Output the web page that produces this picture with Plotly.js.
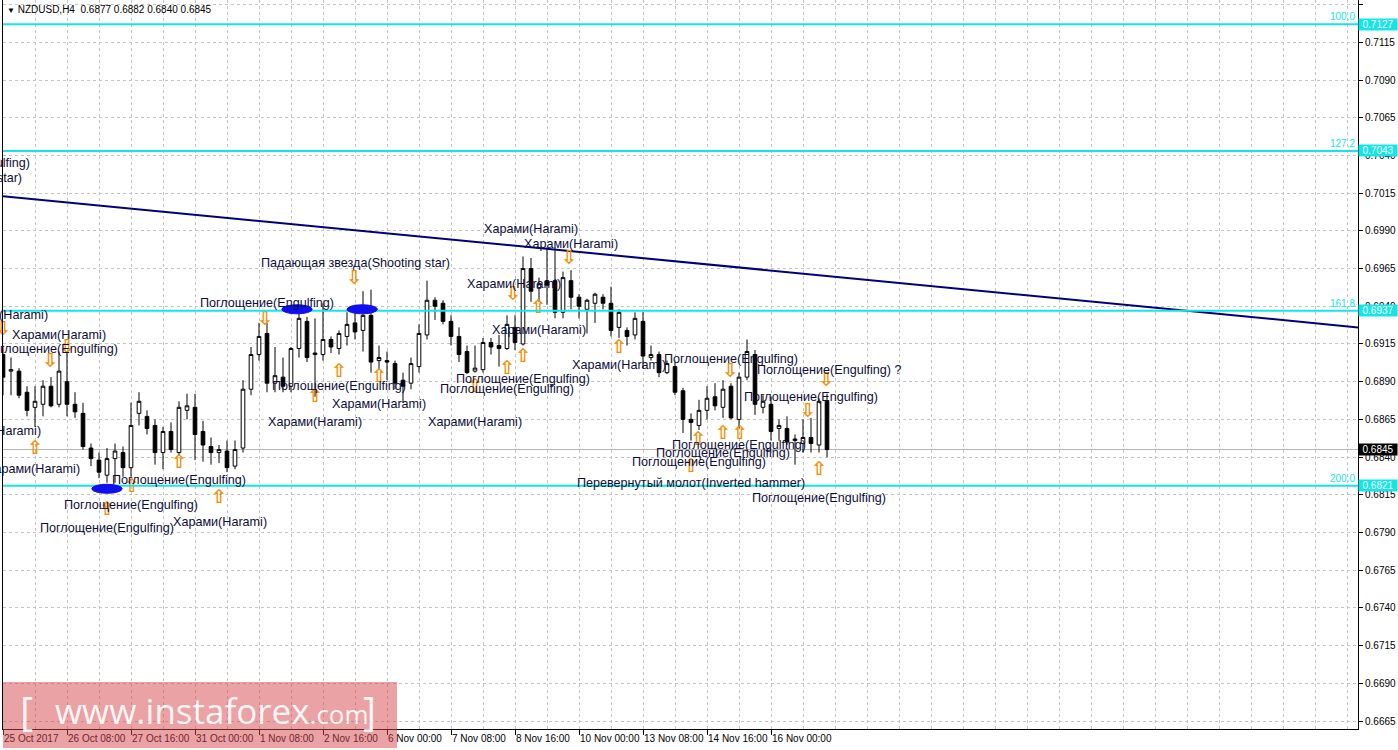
<!DOCTYPE html>
<html><head><meta charset="utf-8">
<script src="https://cdn.plot.ly/plotly-3.0.1.min.js"></script>
<style>html,body{margin:0;padding:0;background:#fff;} #chart{width:1398px;height:750px;}</style>
</head><body><div id="chart"></div>
<script>
// ---------- DATA ----------
const symbolName = "NZDUSD,H4";
const openP  = [0.6908,0.6897,0.6897,0.6883,0.6873,0.6875,0.6887,0.6875,0.6890,0.6875,
0.6869,0.6846,0.6838,0.6828,0.6839,0.6843,0.6833,0.6869,0.6867,0.6861,
0.6843,0.6857,0.6843,0.6871,0.6873,0.6857,0.6847,0.6843,0.6844,0.6834,
0.6846,0.6885,0.6908,0.6922,0.6889,0.6893,0.6887,0.6912,0.6930,0.6908,
0.6908,0.6918,0.6912,0.6920,0.6929,0.6924,0.6934,0.6904,0.6904,0.6902,
0.6891,0.6889,0.6900,0.6921,0.6944,0.6942,0.6930,0.6920,0.6910,0.6897,
0.6898,0.6916,0.6914,0.6912,0.6926,0.6915,0.6965,0.6952,0.6957,0.6957,
0.6936,0.6957,0.6946,0.6938,0.6942,0.6946,0.6942,0.6926,0.6924,0.6921,
0.6930,0.6906,0.6908,0.6896,0.6900,0.6884,0.6865,0.6861,0.6871,0.6880,
0.6873,0.6887,0.6865,0.6893,0.6908,0.6873,0.6875,0.6859,0.6859,0.6851,
0.6849,0.6853,0.6848,0.6877];
const highP  = [0.6914,0.6906,0.6899,0.6887,0.6887,0.6891,0.6893,0.6910,0.6910,0.6883,
0.6876,0.6849,0.6843,0.6846,0.6849,0.6847,0.6876,0.6883,0.6871,0.6865,
0.6860,0.6863,0.6877,0.6882,0.6882,0.6864,0.6853,0.6848,0.6851,0.6851,
0.6891,0.6913,0.6929,0.6929,0.6913,0.6906,0.6913,0.6939,0.6933,0.6932,
0.6942,0.6920,0.6924,0.6936,0.6941,0.6950,0.6951,0.6914,0.6910,0.6904,
0.6896,0.6906,0.6928,0.6957,0.6946,0.6944,0.6934,0.6926,0.6914,0.6914,
0.6919,0.6919,0.6921,0.6934,0.6934,0.6973,0.6972,0.6959,0.6979,0.6979,
0.6963,0.6964,0.6948,0.6945,0.6949,0.6948,0.6953,0.6938,0.6926,0.6936,
0.6936,0.6914,0.6910,0.6904,0.6903,0.6886,0.6869,0.6878,0.6887,0.6889,
0.6891,0.6889,0.6896,0.6918,0.6911,0.6881,0.6880,0.6865,0.6867,0.6855,
0.6865,0.6866,0.6879,0.6882];
const lowP   = [0.6881,0.6881,0.6879,0.6867,0.6860,0.6867,0.6873,0.6873,0.6867,0.6866,
0.6845,0.6834,0.6826,0.6823,0.6823,0.6827,0.6827,0.6861,0.6855,0.6835,
0.6832,0.6843,0.6841,0.6865,0.6838,0.6837,0.6835,0.6836,0.6830,0.6832,
0.6843,0.6881,0.6904,0.6883,0.6883,0.6883,0.6883,0.6906,0.6903,0.6880,
0.6904,0.6909,0.6908,0.6914,0.6918,0.6910,0.6896,0.6898,0.6891,0.6885,
0.6876,0.6885,0.6896,0.6918,0.6931,0.6928,0.6914,0.6903,0.6895,0.6896,
0.6896,0.6908,0.6900,0.6911,0.6911,0.6914,0.6943,0.6943,0.6941,0.6932,
0.6932,0.6938,0.6932,0.6922,0.6929,0.6938,0.6920,0.6919,0.6914,0.6918,
0.6899,0.6904,0.6893,0.6895,0.6881,0.6856,0.6851,0.6858,0.6865,0.6871,
0.6866,0.6865,0.6859,0.6891,0.6868,0.6869,0.6851,0.6851,0.6848,0.6835,
0.6843,0.6843,0.6843,0.6840];
const closeP = [0.6893,0.6898,0.6881,0.6871,0.6877,0.6887,0.6874,0.6897,0.6875,0.6870,
0.6847,0.6839,0.6830,0.6839,0.6844,0.6833,0.6861,0.6877,0.6859,0.6843,
0.6857,0.6845,0.6873,0.6874,0.6855,0.6848,0.6843,0.6845,0.6833,0.6845,
0.6885,0.6908,0.6920,0.6889,0.6894,0.6887,0.6912,0.6932,0.6906,0.6909,
0.6918,0.6913,0.6922,0.6928,0.6923,0.6934,0.6903,0.6906,0.6903,0.6889,
0.6887,0.6902,0.6922,0.6944,0.6940,0.6930,0.6920,0.6908,0.6896,0.6899,
0.6916,0.6913,0.6912,0.6928,0.6916,0.6965,0.6950,0.6955,0.6954,0.6936,
0.6959,0.6946,0.6940,0.6944,0.6948,0.6942,0.6924,0.6936,0.6920,0.6932,
0.6907,0.6908,0.6896,0.6902,0.6883,0.6865,0.6863,0.6871,0.6879,0.6874,
0.6885,0.6866,0.6893,0.6910,0.6875,0.6877,0.6857,0.6861,0.6850,0.6852,
0.6853,0.6849,0.6877,0.6845];

const tickBars   = [0,8,16,24,32,40,48,56,64,72,80,88,96];
const tickLabels = ["25 Oct 2017","26 Oct 08:00","27 Oct 16:00","31 Oct 00:00","1 Nov 08:00","2 Nov 16:00",
                    "6 Nov 00:00","7 Nov 08:00","8 Nov 16:00","10 Nov 00:00","13 Nov 08:00","14 Nov 16:00","16 Nov 00:00"];

const fibLevels = [0.7127, 0.7043, 0.6937, 0.6821];
const fibNames  = ["100.0", "127.2", "161.8", "200.0"];
const bidPrice  = 0.6845;

const trendBars   = [0, 169.4];
const trendPrices = [0.7013, 0.6926];

// pattern labels (centred)
const patternText = [
 "Харами(Harami)","Поглощение(Engulfing)","Поглощение(Engulfing)","Поглощение(Engulfing)","Поглощение(Engulfing)",
 "Харами(Harami)","Падающая звезда(Shooting star)","Поглощение(Engulfing)","Поглощение(Engulfing)","Харами(Harami)",
 "Харами(Harami)","Харами(Harami)","Харами(Harami)","Харами(Harami)","Харами(Harami)","Харами(Harami)",
 "Поглощение(Engulfing)","Поглощение(Engulfing)","Харами(Harami)","Поглощение(Engulfing)","Поглощение(Engulfing) ?",
 "Поглощение(Engulfing)","Поглощение(Engulfing)","Поглощение(Engulfing)","Поглощение(Engulfing)",
 "Перевернутый молот(Inverted hammer)","Поглощение(Engulfing)"];
const patternBar = [7.0, 6.0, 22.0, 16.0, 13.0, 27.1, 44.0, 33.0, 42.0, 47.0,
 39.0, 59.0, 66.0, 71.0, 63.9, 67.0, 65.0, 63.0, 77.0, 91.0, 103.25,
 101.0, 92.0, 90.0, 87.0, 86.0, 102.0];
const patternPrice = [0.6921, 0.6912, 0.6825, 0.6808, 0.6793, 0.6797, 0.6969, 0.6942, 0.6887, 0.6875,
 0.6863, 0.6863, 0.6991, 0.6981, 0.6955, 0.6924, 0.6892, 0.6885, 0.6901, 0.6905, 0.6898,
 0.6880, 0.6848, 0.6843, 0.6837, 0.6823, 0.6813];

// labels cut by the left edge (right end given)
const edgeText  = ["Поглощение(Engulfing)", "Падающая звезда(Shooting star)", "Харами(Harami)", "Харами(Harami)", "Харами(Harami)"];
const edgeBar   = [3.6, 2.6, 5.9, 5.0, 9.9];
const edgePrice = [0.7035, 0.7025, 0.6934, 0.6857, 0.6832];

const upArrowBar   = [4.0, 13.0, 16.1, 22.0, 27.0, 42.0, 39.0, 47.0, 63.0, 65.0, 66.9, 77.0, 59.0, 90.0, 92.1, 86.9, 86.0, 102.0];
const upArrowPrice = [0.6845, 0.6805, 0.6820, 0.6836, 0.6813, 0.6896, 0.6880, 0.6893, 0.6898, 0.6906, 0.6939, 0.6912, 0.6886, 0.6855, 0.6855, 0.6851, 0.6833, 0.6831];
const downArrowBar   = [5.9, 8.0, 0.0, 32.75, 43.9, 63.75, 70.75, 90.9, 102.9, 100.6];
const downArrowPrice = [0.6903, 0.6912, 0.6924, 0.6931, 0.6958, 0.6947, 0.6971, 0.6896, 0.6890, 0.6870];

const ellipseBar   = [13.0, 36.75, 44.9];
const ellipsePrice = [0.6819, 0.6938, 0.6938];

// ---------- STYLE ----------
const CYAN = '#14e6e6';
const TXT = '#0d0d3a';
const ARROW = '#f28c00';
const barIndex = openP.map((_, i) => i);
const last = openP.length - 1;

const traces = [
  {type:'candlestick', x:barIndex, open:openP, high:highP, low:lowP, close:closeP,
   increasing:{line:{color:'#000', width:1}, fillcolor:'#ffffff'},
   decreasing:{line:{color:'#000', width:1}, fillcolor:'#000000'},
   whiskerwidth:0, hoverinfo:'skip', showlegend:false},
  {type:'scatter', mode:'lines', x:trendBars, y:trendPrices,
   line:{color:'#00007a', width:2}, hoverinfo:'skip', showlegend:false},
  {type:'scatter', mode:'text', x:upArrowBar, y:upArrowPrice, text:upArrowBar.map(()=> '<b>⇧</b>'),
   textfont:{family:'DejaVu Sans', size:19, color:ARROW}, cliponaxis:false, hoverinfo:'skip', showlegend:false},
  {type:'scatter', mode:'text', x:downArrowBar, y:downArrowPrice, text:downArrowBar.map(()=> '<b>⇩</b>'),
   textfont:{family:'DejaVu Sans', size:19, color:ARROW}, cliponaxis:false, hoverinfo:'skip', showlegend:false}
];

const shapes = [];
const annotations = [];

// current bid line
shapes.push({type:'line', xref:'paper', x0:0, x1:1, yref:'y', y0:bidPrice, y1:bidPrice,
  line:{color:'#b4b4b4', width:1}, layer:'below'});
// fibonacci levels
fibLevels.forEach((lv, i) => {
  shapes.push({type:'line', xref:'paper', x0:0, x1:1, yref:'y', y0:lv, y1:lv,
    line:{color:CYAN, width:2}, layer:'above'});
  annotations.push({xref:'paper', x:1, xanchor:'right', xshift:-1, yref:'y', y:lv, yanchor:'bottom', yshift:0,
    text:fibNames[i], showarrow:false, font:{family:'Liberation Sans, Arial', size:10, color:CYAN}});
  annotations.push({xref:'paper', x:1, xanchor:'left', xshift:0, yref:'y', y:lv, yanchor:'middle',
    text:lv.toFixed(4), showarrow:false, bgcolor:CYAN, width:38, height:11, borderpad:0, align:'center',
    font:{family:'Liberation Sans, Arial', size:10, color:'#ffffff'}});
});
annotations.push({xref:'paper', x:1, xanchor:'left', xshift:0, yref:'y', y:bidPrice, yanchor:'middle',
  text:bidPrice.toFixed(4), showarrow:false, bgcolor:'#000', width:38, height:11, borderpad:0, align:'center',
  font:{family:'Liberation Sans, Arial', size:10, color:'#ffffff'}});

// ellipses
ellipseBar.forEach((b, i) => {
  shapes.push({type:'circle', xref:'x', yref:'y', x0:b-1.9, x1:b+1.9, y0:ellipsePrice[i]-0.0003, y1:ellipsePrice[i]+0.0003,
    fillcolor:'#1010ee', line:{color:'#1010ee', width:1}, layer:'above'});
});

// pattern labels
patternText.forEach((t, i) => {
  annotations.push({xref:'x', yref:'y', x:patternBar[i], y:patternPrice[i], text:t, showarrow:false,
    xanchor:'center', yanchor:'middle', font:{family:'Liberation Sans, Arial', size:12.6, color:TXT}});
});
edgeText.forEach((t, i) => {
  annotations.push({xref:'x', yref:'y', x:edgeBar[i], y:edgePrice[i], text:t, showarrow:false,
    xanchor:'right', yanchor:'middle', font:{family:'Liberation Sans, Arial', size:12.6, color:TXT}});
});

// header
annotations.push({xref:'paper', yref:'paper', x:0.0015, y:1, xanchor:'left', yanchor:'top', yshift:-2, showarrow:false,
  text:'<span style="font-size:8px">▼</span> ' + symbolName + '\u00a0\u00a0' +
       [openP[last], highP[last], lowP[last], closeP[last]].map(v => v.toFixed(4)).join(' '),
  font:{family:'Liberation Sans, Arial', size:10, color:'#000'}});

// watermark
shapes.push({type:'rect', xref:'paper', yref:'paper', x0:0, x1:0.2908, y0:-0.0261, y1:0.0645,
  fillcolor:'rgba(214,70,75,0.5)', line:{width:0}, layer:'above'});
annotations.push({xref:'paper', yref:'paper', x:0.0177, y:0.025, xanchor:'center', yanchor:'middle', showarrow:false,
  text:'[', font:{family:'Open Sans, DejaVu Sans', size:40, color:'rgba(255,255,255,0.92)'}});
annotations.push({xref:'paper', yref:'paper', x:0.0369, y:0.026, xanchor:'left', yanchor:'middle', showarrow:false,
  text:'www.instaforex<span style="font-size:26px">.com</span>',
  font:{family:'Open Sans, DejaVu Sans', size:35, color:'rgba(255,255,255,0.92)'}});
annotations.push({xref:'paper', yref:'paper', x:0.2705, y:0.025, xanchor:'center', yanchor:'middle', showarrow:false,
  text:']', font:{family:'Open Sans, DejaVu Sans', size:40, color:'rgba(255,255,255,0.92)'}});

const gridStyle = {gridcolor:'#c4c4c4', griddash:'3px,3px', gridwidth:1};

const layout = {
  width:1398, height:750,
  margin:{l:3, r:40, t:0, b:21, pad:0},
  paper_bgcolor:'#ffffff', plot_bgcolor:'#ffffff',
  showlegend:false, dragmode:false, boxgap:0.35,
  xaxis:Object.assign({
    range:[0, 169.375], tickmode:'array', tickvals:tickBars, ticktext:tickLabels, tickangle:0,
    ticks:'outside', ticklen:5, tickcolor:'#000', tickwidth:1,
    ticklabelposition:'outside right',
    tickfont:{family:'Liberation Sans, Arial', size:10, color:'#000'},
    showgrid:true,
    minor:Object.assign({tick0:0, dtick:4, showgrid:true, ticks:''}, gridStyle),
    showline:true, linecolor:'#000', linewidth:1, mirror:true, zeroline:false,
    rangeslider:{visible:false}, fixedrange:true, automargin:false
  }, gridStyle),
  yaxis:Object.assign({
    side:'right', range:[0.66597, 0.71431], tickmode:'linear', tick0:0.6665, dtick:0.0025, tickformat:'.4f',
    ticks:'outside', ticklen:4, tickcolor:'#000',
    tickfont:{family:'Liberation Sans, Arial', size:10, color:'#000'},
    showgrid:true, showline:true, linecolor:'#000', linewidth:1, mirror:true, zeroline:false, fixedrange:true,
    automargin:false
  }, gridStyle),
  shapes:shapes, annotations:annotations
};

Plotly.newPlot('chart', traces, layout, {staticPlot:true, displayModeBar:false});
</script>
</body></html>
